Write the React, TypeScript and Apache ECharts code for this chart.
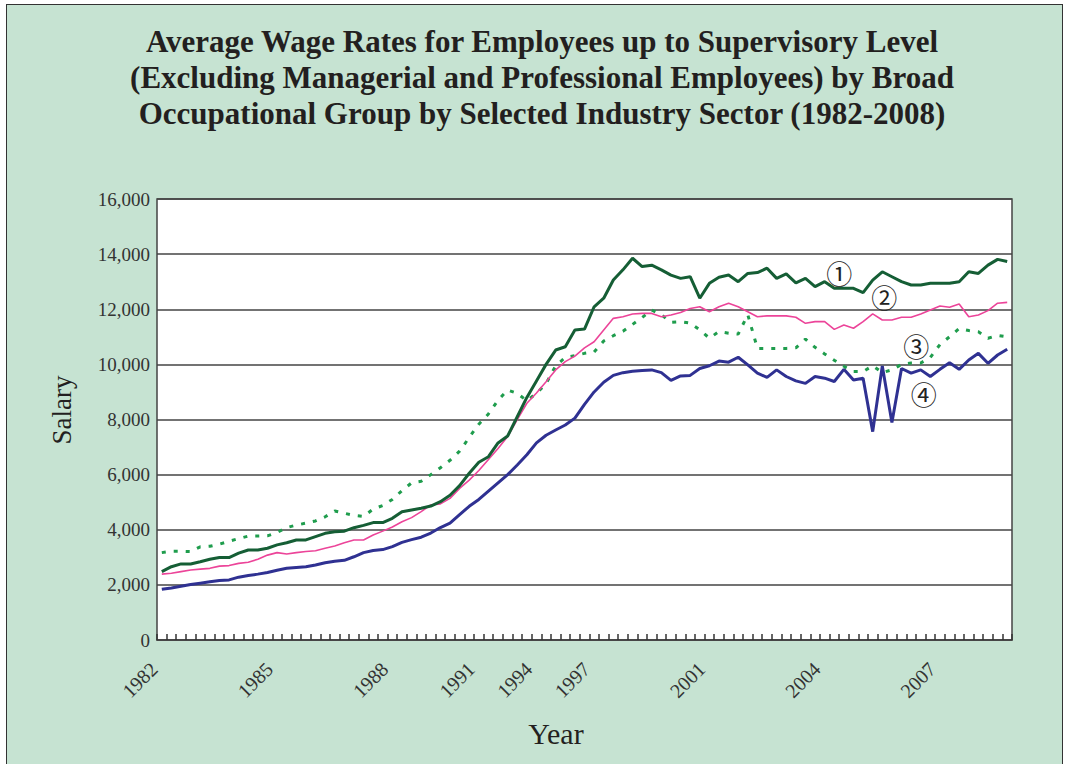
import React, { useEffect, useRef } from "react";
import * as echarts from "echarts";

const titleLines = [
  "Average Wage Rates for Employees up to Supervisory Level",
  "(Excluding Managerial and Professional Employees) by Broad",
  "Occupational Group by Selected Industry Sector (1982-2008)",
];

// number of observations per year on the category axis
const periodsPerYear: [number, number][] = [
  [1982, 4], [1983, 4], [1984, 4], [1985, 4], [1986, 4], [1987, 4],
  [1988, 3], [1989, 3], [1990, 3],
  [1991, 2], [1992, 2], [1993, 2], [1994, 2], [1995, 2], [1996, 2],
  [1997, 3], [1998, 3], [1999, 3], [2000, 3],
  [2001, 4], [2002, 4], [2003, 4], [2004, 4], [2005, 4], [2006, 4], [2007, 4], [2008, 4],
];
const labeledYears = ["1982", "1985", "1988", "1991", "1994", "1997", "2001", "2004", "2007"];

const seriesLabels = ["①", "②", "③", "④"];

const wage1 = [
  2480, 2660, 2760, 2760, 2840, 2930, 2990, 2990, 3150, 3265, 3265, 3330,
  3450, 3530, 3630, 3630, 3750, 3870, 3930, 3950, 4075, 4160, 4260, 4260,
  4415, 4655, 4720, 4780, 4860, 5020, 5250, 5600, 6050,
  6450, 6650, 7150, 7400, 8100, 8800,
  9400, 10000, 10520, 10640, 11250, 11280,
  12090, 12400, 13060, 13430, 13850, 13550, 13600, 13430, 13240, 13120, 13180, 12400,
  12940, 13160, 13240, 13000, 13300, 13330, 13490, 13120, 13280, 12960, 13120, 12820,
  13000, 12760, 12760, 12760, 12600, 13060, 13360, 13180, 13000, 12880, 12880, 12940,
  12940, 12940, 13000, 13360, 13300, 13600, 13810, 13730,
];

const wage2 = [
  2390, 2420, 2480, 2540, 2570, 2600, 2680, 2700, 2780, 2820, 2930, 3080,
  3170, 3120, 3170, 3210, 3240, 3330, 3410, 3530, 3630, 3630, 3810, 3950,
  4100, 4290, 4440, 4660, 4900, 4940, 5140, 5500, 5800,
  6150, 6550, 6950, 7380, 8000, 8590,
  8960, 9370, 9800, 10100, 10300, 10600,
  10820, 11250, 11670, 11730, 11830, 11850, 11850, 11730, 11790, 11880, 12030, 12090,
  11910, 12090, 12220, 12090, 11910, 11730, 11760, 11760, 11760, 11710, 11490, 11550,
  11550, 11270, 11430, 11310, 11550, 11830, 11610, 11610, 11710, 11710, 11830, 11970,
  12120, 12070, 12190, 11730, 11790, 11950, 12220, 12250,
];

const wage3 = [
  3170, 3220, 3220, 3210, 3380, 3400, 3480, 3580, 3680, 3770, 3770, 3780,
  3900, 4080, 4170, 4240, 4320, 4470, 4680, 4600, 4520, 4480, 4750, 4880,
  5100, 5420, 5700, 5760, 6000, 6250, 6520, 6850, 7350,
  7830, 8200, 8700, 9070, 8950, 8680,
  8950, 9300, 9950, 10250, 10320, 10400,
  10450, 10850, 11040, 11200, 11450, 11700, 11970, 11800, 11530, 11550, 11500, 11250,
  10950, 11190, 11130, 11100, 11800, 10580, 10580, 10580, 10580, 10600, 10920, 10620,
  10380, 10150, 9930, 9740, 9740, 9950, 9700, 9800, 10000, 10050, 10050, 10250,
  10720, 11000, 11300, 11230, 11180, 10950, 11050, 11000,
];

const wage4 = [
  1840, 1890, 1950, 2010, 2060, 2110, 2160, 2180, 2280, 2340, 2390, 2450,
  2530, 2600, 2630, 2660, 2720, 2800, 2860, 2890, 3020, 3170, 3250, 3280,
  3390, 3540, 3640, 3730, 3880, 4080, 4240, 4550, 4850,
  5100, 5400, 5700, 6000, 6350, 6720,
  7150, 7430, 7620, 7800, 8050, 8550,
  9000, 9350, 9600, 9700, 9750, 9780, 9800, 9700, 9420, 9580, 9600, 9850,
  9950, 10120, 10080, 10260, 9980, 9680, 9530, 9800, 9560, 9400, 9310, 9560,
  9500, 9380, 9820, 9430, 9500, 7560, 9940, 7890, 9850, 9680, 9800, 9560,
  9820, 10060, 9820, 10160, 10400, 10040, 10340, 10550,
];

// where the circled series numbers sit (category index, salary)
const markerIndex = [70, 75, 78, 79];
const markerValue = [13350, 12450, 10700, 8960];
const markerShift = [5, 2, 5, 3];

const SERIF = "Liberation Serif";

export default function App() {
  const ref = useRef<HTMLDivElement>(null);

  useEffect(() => {
    if (!ref.current) return;
    const chart = echarts.init(ref.current, undefined, { renderer: "svg" });

    const categories: string[] = [];
    periodsPerYear.forEach(([y, n]) => {
      for (let k = 1; k <= n; k++) categories.push(`${y}-${k}`);
    });

    const datasets = [wage1, wage2, wage3, wage4];
    const styles = [
      { color: "#155e35", width: 3, type: "solid" as any },
      { color: "#ec4499", width: 1.6, type: "solid" as any },
      { color: "#1f9d4d", width: 3, type: [4, 8] as any },
      { color: "#2f3192", width: 3, type: "solid" as any },
    ];

    const series = datasets.map((d, i) => ({
      type: "line",
      name: seriesLabels[i],
      data: d,
      symbol: "none",
      showSymbol: false,
      lineStyle: { color: styles[i].color, width: styles[i].width, type: styles[i].type, cap: "butt" },
      itemStyle: { color: styles[i].color },
      z: 4 - i,
      markPoint: {
        silent: true,
        symbol: "circle",
        symbolSize: 1,
        itemStyle: { color: "rgba(0,0,0,0)" },
        label: {
          show: true,
          position: "inside",
          formatter: seriesLabels[i],
          fontFamily: "Noto Sans CJK JP",
          fontSize: 26,
          color: "#222",
          offset: [markerShift[i], 0],
        },
        data: [{ coord: [markerIndex[i], markerValue[i]] }],
      },
    }));

    chart.setOption({
      animation: false,
      backgroundColor: "transparent",
      title: {
        text: titleLines.join("\n"),
        left: 537,
        top: 18,
        textAlign: "center",
        textStyle: {
          fontFamily: SERIF,
          fontWeight: "bold",
          fontSize: 31,
          lineHeight: 36,
          color: "#231f20",
        },
      },
      grid: {
        left: 157,
        right: 53,
        top: 199,
        bottom: 124,
        show: true,
        backgroundColor: "#ffffff",
        borderColor: "#444",
        borderWidth: 1.5,
      },
      xAxis: {
        type: "category",
        data: categories,
        boundaryGap: true,
        axisLine: { show: true, lineStyle: { color: "#444", width: 1.5 } },
        axisTick: { show: true, inside: true, length: 6, interval: 0, lineStyle: { color: "#333", width: 1.5 } },
        axisLabel: {
          interval: (index: number, value: string) => {
            const [y, k] = value.split("-");
            return k === "1" && labeledYears.includes(y);
          },
          formatter: (value: string) => value.split("-")[0],
          rotate: 45,
          margin: 18,
          padding: [0, 11, 0, 0],
          fontFamily: SERIF,
          fontSize: 20,
          color: "#333",
          hideOverlap: false,
        },
        splitLine: { show: false },
      },
      yAxis: {
        type: "value",
        min: 0,
        max: 16000,
        interval: 2000,
        axisLine: { show: false },
        axisTick: { show: false },
        axisLabel: {
          formatter: (v: number) => v.toLocaleString("en-US"),
          fontFamily: SERIF,
          fontSize: 19,
          color: "#333",
          margin: 7,
        },
        splitLine: { show: true, lineStyle: { color: "#444", width: 1.5 } },
      },
      graphic: [
        {
          type: "text",
          x: 62,
          y: 410,
          rotation: Math.PI / 2,
          style: {
            text: "Salary",
            fontFamily: SERIF,
            fontSize: 27,
            fill: "#231f20",
            align: "center",
            verticalAlign: "middle",
          },
        },
        {
          type: "text",
          x: 556,
          y: 733,
          style: {
            text: "Year",
            fontFamily: SERIF,
            fontSize: 30,
            fill: "#231f20",
            align: "center",
            verticalAlign: "middle",
          },
        },
      ],
      series,
    });

    return () => chart.dispose();
  }, []);

  return (
    <div
      style={{
        position: "fixed",
        left: 0,
        top: 0,
        width: 1065,
        height: 764,
        background: "#ffffff",
        overflow: "hidden",
      }}
    >
      <div
        style={{
          position: "absolute",
          left: 6,
          top: 4,
          width: 1055,
          height: 800,
          background: "#c6e3d2",
          border: "1.5px solid #333",
        }}
      />
      <div ref={ref} style={{ position: "absolute", left: 0, top: 0, width: 1065, height: 764 }} />
    </div>
  );
}
